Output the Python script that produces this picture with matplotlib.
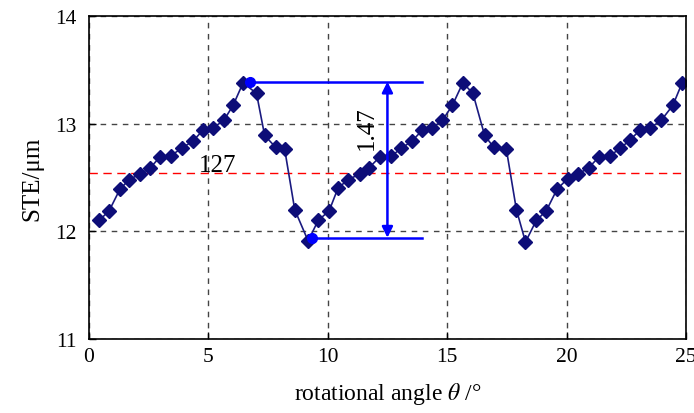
import matplotlib.pyplot as plt

plt.rcParams['font.family'] = ['Liberation Serif', 'DejaVu Serif']
plt.rcParams['mathtext.fontset'] = 'stix'

# rotational angle (deg) and STE (um)
angle = [0.43, 0.85, 1.30, 1.69, 2.13, 2.58, 2.97, 3.42, 3.88, 4.37, 4.78, 5.20,
         5.65, 6.04, 6.46, 7.02, 7.36, 7.82, 8.20, 8.62, 9.18, 9.60, 10.06, 10.43,
         10.85, 11.34, 11.73, 12.18, 12.67, 13.08, 13.54, 13.96, 14.38, 14.80,
         15.22, 15.66, 16.08, 16.57, 16.95, 17.48, 17.90, 18.28, 18.73, 19.15,
         19.60, 20.05, 20.47, 20.93, 21.35, 21.80, 22.25, 22.66, 23.08, 23.50,
         23.96, 24.45, 24.84]
ste = [12.10, 12.19, 12.39, 12.48, 12.53, 12.59, 12.69, 12.70, 12.77, 12.84, 12.94, 12.96,
       13.03, 13.17, 13.38, 13.28, 12.89, 12.78, 12.76, 12.20, 11.91, 12.10, 12.19, 12.40,
       12.48, 12.53, 12.59, 12.69, 12.70, 12.77, 12.84, 12.94, 12.96, 13.03,
       13.17, 13.38, 13.28, 12.89, 12.78, 12.76, 12.20, 11.90, 12.10, 12.19,
       12.39, 12.49, 12.53, 12.59, 12.69, 12.70, 12.77, 12.85, 12.94, 12.96,
       13.03, 13.17, 13.38]

mean_ste = 12.54
peak = (6.74, 13.39)
valley = (9.36, 11.94)
bracket_end = 13.93
arrow_x = 12.5

fig = plt.figure(figsize=(6.94, 4.14), dpi=100)
ax = fig.add_axes([0.128, 0.179, 0.8605, 0.78])

ax.set_xlim(0, 25)
ax.set_ylim(11, 14)
ax.set_xticks([0, 5, 10, 15, 20, 25])
ax.set_yticks([11, 12, 13, 14])
ax.tick_params(direction='in', length=5, labelsize=15.5, width=1)
ax.tick_params(axis='y', pad=9)
ax.tick_params(axis='x', pad=6)
ax.grid(True, color='#444444', linestyle=(0, (4, 4)), linewidth=1)
for s in ax.spines.values():
    s.set_linewidth(1.2)

ax.axhline(mean_ste, color='red', linestyle=(0, (6, 4)), linewidth=1)

ax.plot(angle, ste, color='#1a1a80', linewidth=1.2, marker='D', markersize=7,
        markerfacecolor='#0d0d78', markeredgecolor='#0d0d78')

# peak-to-peak annotation
blue = '#0000ff'
ax.plot([peak[0], bracket_end], [peak[1], peak[1]], color=blue, linewidth=1.8)
ax.plot([valley[0], bracket_end], [valley[1], valley[1]], color=blue, linewidth=1.8)
ax.plot([peak[0]], [peak[1]], 'o', color=blue, markersize=7)
ax.plot([valley[0]], [valley[1]], 'o', color=blue, markersize=7)
ax.annotate('', xy=(arrow_x, valley[1]), xytext=(arrow_x, peak[1]),
            arrowprops=dict(arrowstyle='<|-|>', color=blue, lw=1.8,
                            mutation_scale=16, shrinkA=0, shrinkB=0))
ax.text(11.63, 12.97, '1.47', rotation=90, fontsize=18, ha='center', va='center')
ax.text(5.4, 12.62, '127', fontsize=18, ha='center', va='center')

ax.set_ylabel('STE/μm', fontsize=18, labelpad=8)
ax.set_xlabel(r'rotational angle $\theta$ /°', fontsize=17, labelpad=10)

fig.savefig('out.png', dpi=100)
